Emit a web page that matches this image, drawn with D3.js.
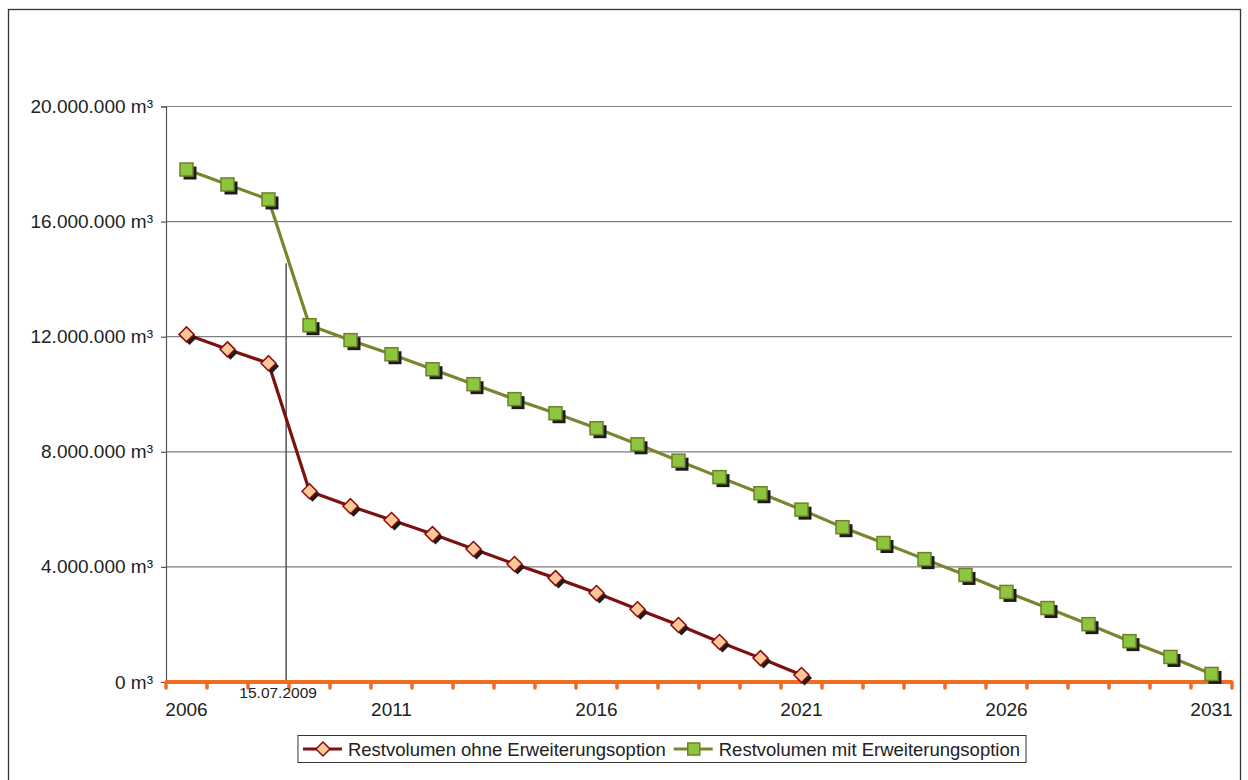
<!DOCTYPE html>
<html>
<head>
<meta charset="utf-8">
<script src="https://cdn.jsdelivr.net/npm/d3@7"></script>
<style>
  body { margin: 0; background: #fff; }
  svg { display: block; font-family: "Liberation Sans", Arial, sans-serif; }
</style>
</head>
<body>
<div id="chart"></div>
<script>
// Daten
const years = d3.range(2006, 2032);
const restOhne = [12080000, 11560000, 11080000, 6630000, 6110000, 5630000, 5140000, 4620000,
  4100000, 3610000, 3090000, 2530000, 1980000, 1390000, 830000, 240000];
const restMit = [17810000, 17290000, 16770000, 12400000, 11880000, 11390000, 10870000, 10350000,
  9830000, 9340000, 8820000, 8260000, 7690000, 7120000, 6560000, 5990000, 5380000, 4830000,
  4270000, 3720000, 3130000, 2570000, 2010000, 1420000, 870000, 280000];
const yTicks = [0, 4000000, 8000000, 12000000, 16000000, 20000000];
const xLabelYears = [2006, 2011, 2016, 2021, 2026, 2031];
const seriesNames = ["Restvolumen ohne Erweiterungsoption", "Restvolumen mit Erweiterungsoption"];
const marker = { year: 2008, frac: 0.43, top: 14550000, label: "15.07.2009" };

const width = 1248, height = 780;
const plot = { left: 166, right: 1232, top: 106.5, bottom: 682 };

const svg = d3.select("#chart").append("svg")
  .attr("width", width)
  .attr("height", height);

// Rahmen
svg.append("rect")
  .attr("x", 8.5).attr("y", 9.5)
  .attr("width", 1232).attr("height", 800)
  .attr("fill", "none")
  .attr("stroke", "#333")
  .attr("stroke-width", 1.3);

const x = d3.scaleBand()
  .domain(years)
  .range([plot.left, plot.right])
  .padding(0);
const cx = d => x(d) + x.bandwidth() / 2;

const y = d3.scaleLinear()
  .domain([0, 20000000])
  .range([plot.bottom, plot.top]);

const de = d3.formatLocale({ decimal: ",", thousands: ".", grouping: [3], currency: ["", " €"] });
const fmt = de.format(",d");

// Gitterlinien
svg.append("g")
  .selectAll("line")
  .data(yTicks.filter(d => d > 0))
  .enter()
  .append("line")
  .attr("x1", plot.left).attr("x2", plot.right)
  .attr("y1", d => y(d)).attr("y2", d => y(d))
  .attr("stroke", "#7f7f7f")
  .attr("stroke-width", 1.2);

// y-Achse
const yAxis = svg.append("g")
  .attr("transform", `translate(${plot.left},0)`)
  .attr("font-family", "Liberation Sans, Arial, sans-serif")
  .call(d3.axisLeft(y).tickValues(yTicks).tickSize(5).tickPadding(8)
    .tickFormat(d => fmt(d) + " m³"));
yAxis.select(".domain").attr("stroke", "#555").attr("stroke-width", 1.2);
yAxis.selectAll(".tick line").attr("stroke", "#555").attr("stroke-width", 1.2);
yAxis.selectAll("text")
  .attr("fill", "#222")
  .attr("font-size", 19)
  .style("font-size", "19px")
  .attr("font-family", "Liberation Sans, Arial, sans-serif");

// Markierung 15.07.2009
const mx = cx(marker.year) + marker.frac * x.step();
svg.append("line")
  .attr("x1", mx).attr("x2", mx)
  .attr("y1", y(marker.top)).attr("y2", y(0))
  .attr("stroke", "#555")
  .attr("stroke-width", 1.5);

// x-Achse (orange)
const xg = svg.append("g");
xg.append("line")
  .attr("x1", plot.left).attr("x2", plot.right)
  .attr("y1", y(0)).attr("y2", y(0))
  .attr("stroke", "#f26b22")
  .attr("stroke-width", 4);
xg.selectAll(".xtick")
  .data(years.concat([null]))
  .enter()
  .append("line")
  .attr("class", "xtick")
  .attr("x1", d => d === null ? plot.right : x(d))
  .attr("x2", d => d === null ? plot.right : x(d))
  .attr("y1", y(0)).attr("y2", y(0) + 6)
  .attr("stroke", "#f26b22")
  .attr("stroke-width", 3.5)
  .attr("stroke-linecap", "round");

svg.append("text")
  .attr("x", mx - 8)
  .attr("y", 698)
  .attr("text-anchor", "middle")
  .attr("fill", "#222")
  .style("font-size", "15.5px")
  .text(marker.label);

svg.selectAll(".xlabel")
  .data(xLabelYears)
  .enter()
  .append("text")
  .attr("class", "xlabel")
  .attr("x", d => cx(d))
  .attr("y", 716)
  .attr("text-anchor", "middle")
  .attr("fill", "#222")
  .style("font-size", "19px")
  .text(d => d);

// Linien
const lineGen = d3.line()
  .defined(d => d.v != null)
  .x(d => cx(d.year))
  .y(d => y(d.v));

const ohneData = restOhne.map((v, i) => ({ year: years[i], v }));
const mitData = restMit.map((v, i) => ({ year: years[i], v }));

const redLine = "#7f1010", redFill = "#ffc898", redStroke = "#8b0a0a";
const greenLine = "#7d8430", greenFill = "#8cc63f", greenStroke = "#6f7f2a";
const shadow = "#1c1c1c";

svg.append("path")
  .datum(mitData)
  .attr("fill", "none")
  .attr("stroke", greenLine)
  .attr("stroke-width", 3.2)
  .attr("d", lineGen);

svg.append("path")
  .datum(ohneData)
  .attr("fill", "none")
  .attr("stroke", redLine)
  .attr("stroke-width", 3.2)
  .attr("d", lineGen);

function drawSquare(g, px, py) {
  g.append("rect").attr("x", px - 6 + 3).attr("y", py - 6 + 3)
    .attr("width", 13).attr("height", 13).attr("fill", shadow);
  g.append("rect").attr("x", px - 6.5).attr("y", py - 6.5)
    .attr("width", 13).attr("height", 13)
    .attr("fill", greenFill).attr("stroke", greenStroke).attr("stroke-width", 1.5);
}
function drawDiamond(g, px, py) {
  const r = 7.5;
  const pts = (ox, oy) => [[ox, oy - r], [ox + r, oy], [ox, oy + r], [ox - r, oy]].join(" ");
  g.append("polygon").attr("points", pts(px + 3, py + 3)).attr("fill", shadow);
  g.append("polygon").attr("points", pts(px, py))
    .attr("fill", redFill).attr("stroke", redStroke).attr("stroke-width", 1.5);
}

const mitG = svg.append("g");
mitData.forEach(d => drawSquare(mitG, cx(d.year), y(d.v)));
const ohneG = svg.append("g");
ohneData.forEach(d => drawDiamond(ohneG, cx(d.year), y(d.v)));

// Legende
const legend = svg.append("g");
const legBox = legend.append("rect")
  .attr("fill", "#fff")
  .attr("stroke", "#333")
  .attr("stroke-width", 1);
let lx = 0;
const ly = 749;
seriesNames.forEach((name, i) => {
  const g = legend.append("g");
  g.append("line")
    .attr("x1", lx).attr("x2", lx + 39)
    .attr("y1", ly).attr("y2", ly)
    .attr("stroke", i === 0 ? redLine : greenLine)
    .attr("stroke-width", 3);
  if (i === 0) {
    const r = 7;
    g.append("polygon")
      .attr("points", [[lx + 20, ly - r], [lx + 20 + r, ly], [lx + 20, ly + r], [lx + 20 - r, ly]].join(" "))
      .attr("fill", redFill).attr("stroke", redStroke).attr("stroke-width", 1.5);
  } else {
    g.append("rect").attr("x", lx + 14).attr("y", ly - 6)
      .attr("width", 12).attr("height", 12)
      .attr("fill", greenFill).attr("stroke", greenStroke).attr("stroke-width", 1.5);
  }
  const t = g.append("text")
    .attr("x", lx + 45)
    .attr("y", ly + 6.5)
    .attr("fill", "#222")
    .style("font-size", "18.5px")
    .text(name);
  lx += 45 + t.node().getComputedTextLength() + 8;
});
const legW = lx - 8;
const legLeft = 661.5 - legW / 2;
legend.selectAll("g").attr("transform", `translate(${legLeft},0)`);
legBox.attr("x", legLeft - 5).attr("y", 735.5)
  .attr("width", legW + 11).attr("height", 27);
</script>
</body>
</html>
